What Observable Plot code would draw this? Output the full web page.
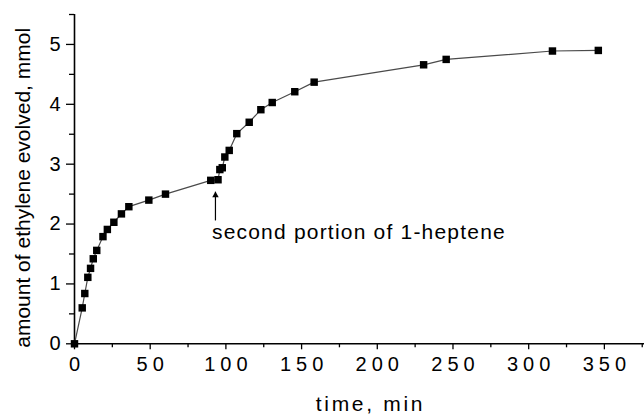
<!DOCTYPE html>
<html>
<head>
<meta charset="utf-8">
<script src="https://cdn.jsdelivr.net/npm/d3@7"></script>
<script src="https://cdn.jsdelivr.net/npm/@observablehq/plot@0.6"></script>
<style>
  html, body { margin: 0; padding: 0; background: #fff; }
  #chart { width: 644px; height: 414px; overflow: hidden; }
</style>
</head>
<body>
<div id="chart"></div>
<script>
// ---- data ----
const timeMin = [0, 5.1, 6.8, 8.8, 10.6, 12.4, 14.7, 18.8, 21.7, 26, 31, 35.9, 49.1, 60.1, 90, 94.8, 96, 97.6, 99.3, 102.2, 107.2, 115.4, 123.1, 130.6, 145.5, 158.3, 230.6, 245.5, 315.7, 346];
const ethylene = [0, 0.60, 0.84, 1.11, 1.26, 1.42, 1.56, 1.79, 1.91, 2.03, 2.17, 2.29, 2.40, 2.50, 2.73, 2.74, 2.91, 2.94, 3.12, 3.23, 3.51, 3.70, 3.91, 4.03, 4.21, 4.37, 4.66, 4.75, 4.89, 4.90];
const xTicks = [0, 50, 100, 150, 200, 250, 300, 350];
const xMinorTicks = [25, 75, 125, 175, 225, 275, 325, 375];
const yTicks = [0, 1, 2, 3, 4, 5];
const yMinorTicks = [0.5, 1.5, 2.5, 3.5, 4.5, 5.5];
const xLabel = "time, min";
const yLabel = "amount of ethylene evolved, mmol";
const annotationText = "second portion of 1-heptene";
const annotationArrow = [{x1: 93.1, y1: 2.06, x2: 93.1, y2: 2.54}];
const annotationLabel = [{x: 90.8, y: 1.86, text: annotationText}];

const data = timeMin.map((t, i) => ({t, v: ethylene[i]}));

const FONT = "'Liberation Sans', Arial, Helvetica, sans-serif";

const chart = Plot.plot({
  width: 644,
  height: 414,
  marginLeft: 74,
  marginRight: 0,
  marginTop: 14,
  marginBottom: 70.7,
  style: {fontFamily: FONT, fontSize: "20px", color: "black", background: "white"},
  x: {domain: [0, 376.5]},
  y: {domain: [0, 5.5]},
  marks: [
    // minor ticks
    Plot.axisX({ticks: xMinorTicks, tickSize: 4, text: null, label: null, strokeWidth: 1.3}),
    Plot.axisY({ticks: yMinorTicks, tickSize: 5, text: null, label: null, strokeWidth: 1.3}),
    // major ticks
    Plot.axisX({ticks: xTicks, tickSize: 6, tickPadding: 7, fontSize: 20, label: null, strokeWidth: 1.3, tickFormat: d3.format("d")}),
    Plot.axisY({ticks: yTicks, tickSize: 8, tickPadding: 6, fontSize: 20, label: null, strokeWidth: 1.3, tickFormat: d3.format("d")}),
    // axis lines
    Plot.ruleX([0], {stroke: "black", strokeWidth: 1.6}),
    Plot.ruleY([0], {stroke: "black", strokeWidth: 1.6}),
    // axis titles
    Plot.text([xLabel], {frameAnchor: "bottom", textAnchor: "middle", lineAnchor: "middle", dy: 60, dx: 11, fontSize: 21, fill: "black"}),
    Plot.text([yLabel], {frameAnchor: "left", textAnchor: "middle", rotate: -90, lineAnchor: "middle", dx: -51, dy: 8.7, fontSize: 21, fill: "black"}),
    // data
    Plot.line(data, {x: "t", y: "v", stroke: "#4a4a4a", strokeWidth: 1.2}),
    Plot.dot(data, {x: "t", y: "v", symbol: "square", r: 4.2, fill: "black", stroke: "none"}),
    // annotation arrow (shaft + filled head)
    Plot.link(annotationArrow, {x1: "x1", y1: "y1", x2: "x2", y2: "y2", stroke: "black", strokeWidth: 1.2}),
    Plot.dot(annotationArrow, {x: "x2", y: "y2", symbol: "triangle", r: 2.4, fill: "black", stroke: "none", dy: 3.6}),
    Plot.text(annotationLabel, {x: "x", y: "y", text: "text", textAnchor: "start", lineAnchor: "middle", fontSize: 21, fill: "black"})
  ]
});

// letter spacing tweaks to match the reference's wide typography
const svg = d3.select(chart);
svg.selectAll('g[aria-label="x-axis tick label"] text')
  .style("letter-spacing", "5px")
  .attr("dx", function() { const cur = parseFloat(d3.select(this).attr("dx") || 0); return cur + 2.5; });
svg.selectAll("text").filter(function() { return this.textContent === xLabel; })
  .style("letter-spacing", "2.7px");
svg.selectAll("text").filter(function() { return this.textContent === annotationText; })
  .style("letter-spacing", "1.2px");

document.getElementById("chart").appendChild(chart);
</script>
</body>
</html>
